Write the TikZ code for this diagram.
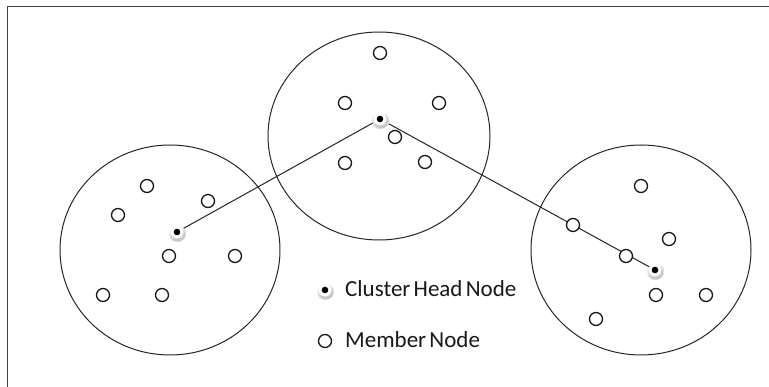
\documentclass[tikz,border=0pt]{standalone}
\usepackage{fontspec}
\setmainfont{Carlito}
\newcommand\legendtext{\fontsize{23}{27}\selectfont\spaceskip=0.14em\relax}
\begin{document}
\begin{tikzpicture}[x=1pt,y=-1pt,
  member/.style={circle,draw=black!90,line width=1.3pt,fill=white,minimum size=13pt,inner sep=0pt},
  head/.style={circle,minimum size=20pt,inner sep=0pt,
    path picture={
      \fill[black!12] ([shift={(1pt,-2.5pt)}]path picture bounding box.center) circle (8.5pt);
      \fill[black!22] ([shift={(1pt,-2.5pt)}]path picture bounding box.center) circle (7pt);
      \fill[white] (path picture bounding box.center) circle (6.5pt);
      \fill[black] (path picture bounding box.center) circle (3.3pt);}},
  link/.style={draw=black!85,line width=1pt},
  area/.style={draw=black!85,line width=1pt},
  legend/.style={anchor=west,font=\legendtext,text=black!90,inner sep=0pt}]
\useasboundingbox (0,0) rectangle (769,387);
\fill[white] (0,0) rectangle (769,387);
% frame
\draw[black!75,line width=1.6pt] (7.5,387) -- (7.5,6.5) -- (769,6.5);

% cluster areas
\draw[area] (170,250) ellipse [x radius=110, y radius=105];
\draw[area] (379,136) ellipse [x radius=111, y radius=104];
\draw[area] (641,250) ellipse [x radius=110, y radius=105];

% cluster heads
\node[head] (hm) at (380,119) {};
\node[head] (hl) at (177,232) {};
\node[head] (hr) at (655,270) {};

% links between heads
\draw[link] (hm.center) -- (hl.center);
\draw[link] (hm.center) -- (hr.center);

% members, middle cluster
\node[member] (m1) at (380,53) {};
\node[member] (m2) at (345,103) {};
\node[member] (m3) at (439,103) {};
\node[member] (m4) at (395,137) {};
\node[member] (m5) at (345,163) {};
\node[member] (m6) at (425,162) {};
% members, left cluster
\node[member] (l1) at (147,186) {};
\node[member] (l2) at (118,215) {};
\node[member] (l3) at (208,201) {};
\node[member] (l4) at (169,256) {};
\node[member] (l5) at (235,256) {};
\node[member] (l6) at (103,295) {};
\node[member] (l7) at (162,295) {};
% members, right cluster
\node[member] (r1) at (641,186) {};
\node[member] (r2) at (573,225) {};
\node[member] (r3) at (669,239) {};
\node[member] (r4) at (626,256) {};
\node[member] (r5) at (656,295) {};
\node[member] (r6) at (706,295) {};
\node[member] (r7) at (596,319) {};

% redraw the heads above the links
\node[head] at (380,119) {};
\node[head] at (177,232) {};
\node[head] at (655,270) {};

% legend
\node[head] (kh) at (325,290) {};
\node[legend] (kht) at (345,289) {Cluster Head Node};
\node[member] (km) at (325,341) {};
\node[legend] (kmt) at (345,340) {Member Node};
\end{tikzpicture}
\end{document}
